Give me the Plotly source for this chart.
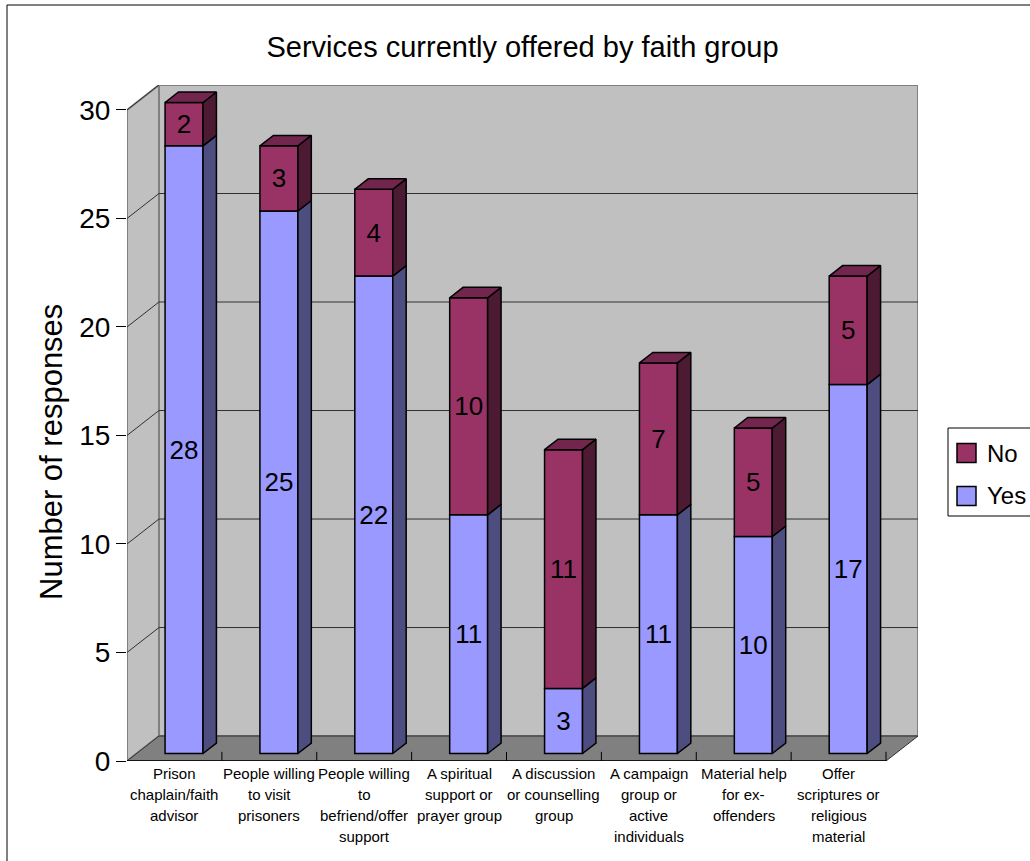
import plotly.graph_objects as go

# ---- data -------------------------------------------------------------
categories = [
    "Prison<br>chaplain/faith<br>advisor",
    "People willing<br>to visit<br>prisoners",
    "People willing<br>to<br>befriend/offer<br>support",
    "A spiritual<br>support or<br>prayer group",
    "A discussion<br>or counselling<br>group",
    "A campaign<br>group or<br>active<br>individuals",
    "Material help<br>for ex-<br>offenders",
    "Offer<br>scriptures or<br>religious<br>material",
]
yes_counts = [28, 25, 22, 11, 3, 11, 10, 17]
no_counts = [2, 3, 4, 10, 11, 7, 5, 5]
y_ticks = [0, 5, 10, 15, 20, 25, 30]

# ---- 3-D look parameters (data units) ---------------------------------
N = len(categories)
Y_MAX = 30
DX, DY = 0.337, 1.15          # wall depth offset
F1, F2 = 0.30, 0.72           # bar front / back depth fraction
BAR_W = 0.40

FONT = "Arial, Liberation Sans, sans-serif"
YES_FRONT, YES_SIDE = "#9999FF", "#4D4D80"
NO_FRONT, NO_SIDE, NO_TOP = "#993366", "#4D1A33", "#73264D"
WALL, FLOOR, EDGE = "#C0C0C0", "#808080", "#808080"

# plot-area geometry in pixels (used to place layout-level decorations)
W, H = 1030, 861
L, R, T, B = 127, 112, 85, 100
PW, PH = W - L - R, H - T - B


def px_x(px):
    return (px - L) / PW


def px_y(py):
    return (H - B - py) / PH


fig = go.Figure()

# ---- walls, floor and gridlines (shapes below traces) -----------------
shapes = []
# back wall
shapes.append(dict(type="rect", xref="x", yref="y", layer="below",
                   x0=DX, x1=N + DX, y0=DY, y1=Y_MAX + DY,
                   fillcolor=WALL, line=dict(color=EDGE, width=2)))
# left wall
shapes.append(dict(type="path", xref="x", yref="y", layer="below",
                   path=f"M0,0 L{DX},{DY} L{DX},{Y_MAX + DY} L0,{Y_MAX} Z",
                   fillcolor=WALL, line=dict(color=EDGE, width=2)))
# floor
shapes.append(dict(type="path", xref="x", yref="y", layer="below",
                   path=f"M0,0 L{N},0 L{N + DX},{DY} L{DX},{DY} Z",
                   fillcolor=FLOOR, line=dict(color="#303030", width=1)))
# gridlines on back and left walls
for v in y_ticks[1:-1]:
    shapes.append(dict(type="line", xref="x", yref="y", layer="below",
                       x0=DX, x1=N + DX, y0=v + DY, y1=v + DY,
                       line=dict(color="#303030", width=1)))
for v in y_ticks[1:]:
    shapes.append(dict(type="line", xref="x", yref="y", layer="below",
                       x0=0, x1=DX, y0=v, y1=v + DY,
                       line=dict(color="#303030", width=1)))
# floor front edge and category tick marks
shapes.append(dict(type="line", xref="x", yref="y", layer="below",
                   x0=0, x1=N, y0=0, y1=0, line=dict(color="black", width=1.5)))
for i in range(1, N + 1):
    shapes.append(dict(type="line", xref="x", yref="y", layer="below",
                       x0=i, x1=i, y0=0, y1=0.42,
                       line=dict(color="black", width=1)))

# ---- bars: front faces ------------------------------------------------
x_front = [i + 0.5 + F1 * DX for i in range(N)]
base0 = F1 * DY
yes_base = [base0] * N
no_base = [base0 + y for y in yes_counts]

fig.add_trace(go.Bar(
    name="Yes", x=x_front, y=yes_counts, base=yes_base, width=BAR_W,
    marker=dict(color=YES_FRONT, line=dict(color="black", width=1.5)),
    text=[str(v) for v in yes_counts], textposition="inside",
    insidetextanchor="middle", textangle=0, constraintext="none",
    textfont=dict(family=FONT, size=26, color="black"),
    showlegend=False, hoverinfo="skip"))
fig.add_trace(go.Bar(
    name="No", x=x_front, y=no_counts, base=no_base, width=BAR_W,
    marker=dict(color=NO_FRONT, line=dict(color="black", width=1.5)),
    text=[str(v) for v in no_counts], textposition="inside",
    insidetextanchor="middle", textangle=0, constraintext="none",
    textfont=dict(family=FONT, size=26, color="black"),
    showlegend=False, hoverinfo="skip"))

# ---- bars: side and top faces -----------------------------------------
ddx, ddy = (F2 - F1) * DX, (F2 - F1) * DY


def side_faces(bottoms, tops):
    xs, ys = [], []
    for xc, b, t in zip(x_front, bottoms, tops):
        x1 = xc + BAR_W / 2
        xs += [x1, x1 + ddx, x1 + ddx, x1, x1, None]
        ys += [b, b + ddy, t + ddy, t, b, None]
    return xs, ys


def top_faces(tops):
    xs, ys = [], []
    for xc, t in zip(x_front, tops):
        x0, x1 = xc - BAR_W / 2, xc + BAR_W / 2
        xs += [x0, x0 + ddx, x1 + ddx, x1, x0, None]
        ys += [t, t + ddy, t + ddy, t, t, None]
    return xs, ys


yes_tops = [base0 + y for y in yes_counts]
no_tops = [b + n for b, n in zip(no_base, no_counts)]

for (xs, ys), col in [
    (side_faces(yes_base, yes_tops), YES_SIDE),
    (side_faces(no_base, no_tops), NO_SIDE),
    (top_faces(no_tops), NO_TOP),
]:
    fig.add_trace(go.Scatter(
        x=xs, y=ys, mode="lines", fill="toself", fillcolor=col,
        line=dict(color="black", width=1.5), showlegend=False,
        hoverinfo="skip"))

# ---- category labels under the floor ----------------------------------
annotations = []
for i, label in enumerate(categories):
    for j, line in enumerate(label.split("<br>")):
        annotations.append(dict(
            x=i + 0.5, y=0, xref="x", yref="y", text=line, showarrow=False,
            xanchor="center", yanchor="middle", yshift=-(12 + 21 * j),
            font=dict(family=FONT, size=15, color="black")))

# y-axis title
annotations.append(dict(
    x=px_x(51), y=px_y(452), xref="paper", yref="paper",
    text="Number of responses", textangle=-90, showarrow=False,
    xanchor="center", yanchor="middle",
    font=dict(family=FONT, size=31, color="black")))

# ---- legend (drawn box) -----------------------------------------------
shapes.append(dict(type="rect", xref="paper", yref="paper",
                   x0=px_x(948), x1=px_x(1070), y0=px_y(516), y1=px_y(428),
                   fillcolor="white", line=dict(color="black", width=1)))
for name, col, cy in [("No", NO_FRONT, 453), ("Yes", YES_FRONT, 496)]:
    shapes.append(dict(type="rect", xref="paper", yref="paper",
                       x0=px_x(957), x1=px_x(976),
                       y0=px_y(cy + 9.5), y1=px_y(cy - 9.5),
                       fillcolor=col, line=dict(color="black", width=1.5)))
    annotations.append(dict(
        x=px_x(985), y=px_y(cy), xref="paper", yref="paper", text=name,
        showarrow=False, xanchor="left", yanchor="middle",
        font=dict(family=FONT, size=24, color="black")))

# outer chart frame
shapes.append(dict(type="rect", xref="paper", yref="paper",
                   x0=px_x(7), x1=px_x(1100), y0=px_y(900), y1=px_y(5),
                   line=dict(color="black", width=1), layer="below"))

fig.update_layout(
    width=W, height=H,
    margin=dict(l=L, r=R, t=T, b=B),
    paper_bgcolor="white", plot_bgcolor="white",
    barmode="overlay",
    title=dict(text="Services currently offered by faith group",
               x=0.5, xref="paper", xanchor="center",
               y=1 - 47 / H, yref="container", yanchor="middle",
               font=dict(family=FONT, size=29, color="black")),
    xaxis=dict(range=[0, N + DX], showgrid=False, zeroline=False,
               showline=False, showticklabels=False, ticks="",
               fixedrange=True),
    yaxis=dict(range=[0, Y_MAX + DY], tickvals=y_ticks, showgrid=False,
               zeroline=False, showline=False, ticks="outside", ticklen=10,
               tickcolor="black", tickwidth=1,
               tickfont=dict(family=FONT, size=28, color="black"),
               fixedrange=True),
    shapes=shapes,
    annotations=annotations,
    showlegend=False,
)

fig.write_html("out.html")
